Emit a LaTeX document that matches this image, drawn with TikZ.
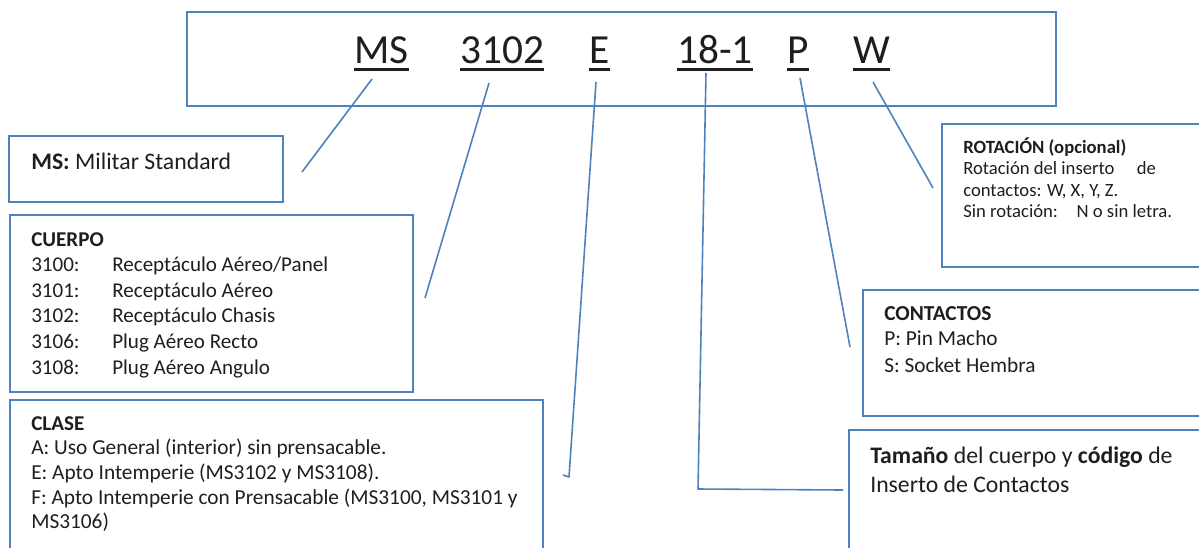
\documentclass[tikz,border=0pt]{standalone}
\usepackage{fontspec}
\setmainfont{Carlito}
\usepackage{xcolor}
\definecolor{leaderblue}{HTML}{4F81BD}
\definecolor{inkgray}{HTML}{1E1E1E}

\begin{document}
\begin{tikzpicture}[x=0.75pt, y=-0.75pt,
  infobox/.style={draw=leaderblue, line width=1.5pt},
  leader/.style={draw=leaderblue, line width=1.2pt, line join=round},
  codetxt/.style={inner sep=0pt, anchor=base west, text=inkgray, font=\fontsize{31}{37}\selectfont},
  txt/.style={inner sep=0pt, anchor=base west, text=inkgray}]
  \clip (0,0) rectangle (1199,547);
  % boxes
  \draw[infobox] (187,12) rectangle (1056,106);
  \draw[infobox] (9,136) rectangle (283,202);
  \draw[infobox] (10,215) rectangle (413,392);
  \draw[infobox] (10,400) rectangle (543,570);
  \draw[infobox] (942,124) rectangle (1220,267);
  \draw[infobox] (863,290) rectangle (1220,416);
  \draw[infobox] (849,430) rectangle (1220,570);
  % the code
  \node[codetxt] (ms)   at (354,63) {MS};
  \node[codetxt] (body) at (460,63) {3102};
  \node[codetxt] (cls)  at (589,63) {E};
  \node[codetxt] (size) at (677,63) {18-1};
  \node[codetxt] (pin)  at (787,63) {P};
  \node[codetxt] (rot)  at (853,63) {W};
  \foreach \n in {ms,body,cls,size,pin,rot}
    \draw[inkgray, line width=1.7pt] ([yshift=-4.9pt]\n.base west) -- ([yshift=-4.9pt]\n.base east);
  % leader ends
  \coordinate (msA) at (372,79);   \coordinate (msB) at (302,172);
  \coordinate (bodyA) at (489,83); \coordinate (bodyB) at (425,298);
  \coordinate (clsA) at (596,82);  \coordinate (clsB) at (569,477); \coordinate (clsC) at (563,475);
  \coordinate (sizeA) at (706,73); \coordinate (sizeB) at (698,489); \coordinate (sizeC) at (843,490);
  \coordinate (pinA) at (800,78);  \coordinate (pinB) at (850,347);
  \coordinate (rotA) at (873,82);  \coordinate (rotB) at (933,188);
  \draw[leader] (msA) -- (msB);
  \draw[leader] (bodyA) -- (bodyB);
  \draw[leader] (clsA) -- (clsB) -- (clsC);
  \draw[leader] (sizeA) -- (sizeB) -- (sizeC);
  \draw[leader] (pinA) -- (pinB);
  \draw[leader] (rotA) -- (rotB);
  % MS
  \node[txt, font=\fontsize{17.8}{21}\selectfont] (mstxt) at (31,169) {\textbf{MS:} Militar Standard};
  % CUERPO
  \begin{scope}[every node/.append style={font=\fontsize{15.8}{19}\selectfont}]
    \node[txt, font=\fontsize{15.8}{19}\selectfont\bfseries] (cuerpo) at (31,246) {CUERPO};
    \foreach \code/\desc [count=\i] in {3100/{Receptáculo Aéreo/Panel}, 3101/{Receptáculo Aéreo},
        3102/{Receptáculo Chasis}, 3106/{Plug Aéreo Recto}, 3108/{Plug Aéreo Angulo}} {
      \node[txt] (code\i) at (31,{246+25.6*\i}) {\code:};
      \node[txt] (desc\i) at (112,{246+25.6*\i}) {\desc};
    }
  \end{scope}
  % CLASE
  \begin{scope}[every node/.append style={font=\fontsize{16}{19}\selectfont}]
    \node[txt, font=\fontsize{15.8}{19}\selectfont\bfseries] (clase) at (31,430) {CLASE};
    \foreach \line [count=\i] in {{A: Uso General (interior) sin prensacable.},
        {E: Apto Intemperie (MS3102 y MS3108).},
        {F: Apto Intemperie con Prensacable (MS3100, MS3101 y},
        {MS3106)}}
      \node[txt] (clase\i) at (31,{430+24.7*\i}) {\line};
  \end{scope}
  % ROTACION
  \begin{scope}[every node/.append style={font=\fontsize{14}{17}\selectfont}]
    \node[txt, font=\fontsize{14}{17}\selectfont\bfseries] (rotacion) at (963,153) {ROTACIÓN (opcional)};
    \node[txt] (rot1) at (963,174) {Rotación del inserto\hspace{1.2em}de};
    \node[txt] (rot2) at (963,196) {contactos: W, X, Y, Z.};
    \node[txt] (rot3) at (963,217) {Sin rotación:\hspace{1em}N o sin letra.};
  \end{scope}
  % CONTACTOS
  \begin{scope}[every node/.append style={font=\fontsize{16}{19}\selectfont}]
    \node[txt, font=\fontsize{16}{19}\selectfont\bfseries] (contactos) at (884,320) {CONTACTOS};
    \node[txt] (cont1) at (884,345) {P: Pin Macho};
    \node[txt] (cont2) at (884,372) {S: Socket Hembra};
  \end{scope}
  % tamano
  \begin{scope}[every node/.append style={font=\fontsize{17.8}{21}\selectfont}]
    \node[txt] (tam1) at (870,463) {\textbf{Tamaño} del cuerpo y \textbf{código} de};
    \node[txt] (tam2) at (870,492) {Inserto de Contactos};
  \end{scope}
\end{tikzpicture}
\end{document}
